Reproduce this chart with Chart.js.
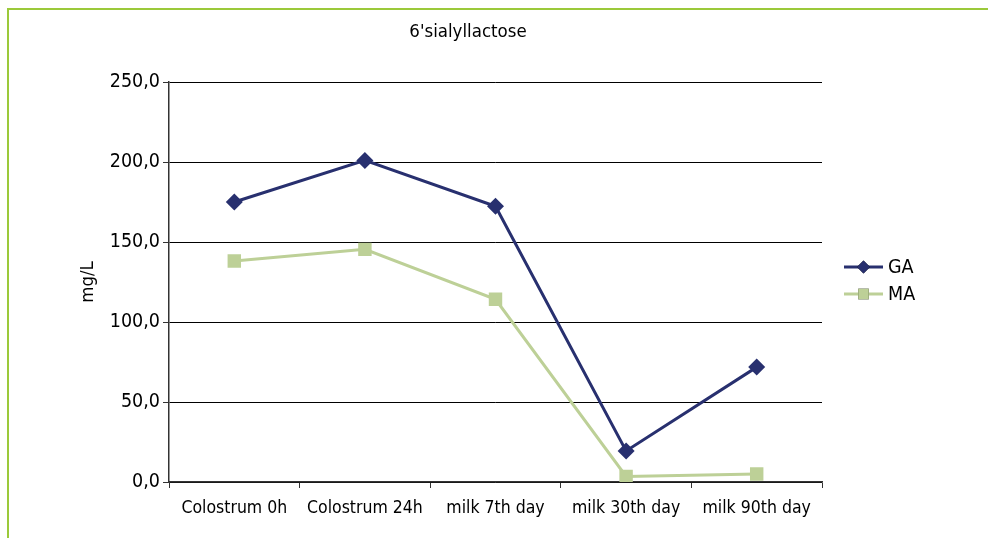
<!DOCTYPE html>
<html>
<head>
<meta charset="utf-8">
<script src="https://cdn.jsdelivr.net/npm/chart.js@4/dist/chart.umd.min.js"></script>
<style>
  html, body { margin: 0; padding: 0; background: #fff; }
  #wrap { position: relative; width: 988px; height: 538px; }
  #frame { position: absolute; left: 7px; top: 8px; right: 0; bottom: 0;
           border-top: 2px solid #9bc93a; border-left: 2px solid #9bc93a; }
  #chart { position: absolute; left: 0; top: 0; }
</style>
</head>
<body>
<div id="wrap">
  <div id="frame"></div>
  <canvas id="chart" width="988" height="538"></canvas>
</div>
<script>
// data
const categories = ['Colostrum 0h', 'Colostrum 24h', 'milk 7th day', 'milk 30th day', 'milk 90th day'];
const gaValues = [175.0, 201.0, 172.3, 19.4, 71.8];
const maValues = [138.1, 145.4, 114.2, 3.5, 5.0];
const yTicks = [0, 50, 100, 150, 200, 250];
const chartTitle = "6'sialyllactose";

const FONT = '"DejaVu Sans Condensed", "DejaVu Sans", sans-serif';
const GA_COLOR = '#28306f';
const MA_COLOR = '#bdd097';

// title sits over the plot, not over the whole canvas
const topTitle = {
    id: 'topTitle',
    afterDraw(chart) {
        const ctx = chart.ctx;
        ctx.save();
        ctx.fillStyle = '#000';
        ctx.font = '18.5px ' + FONT;
        ctx.textAlign = 'center';
        ctx.textBaseline = 'middle';
        ctx.fillText(chartTitle, 468, 32);
        ctx.restore();
    }
};

// legend on the right: line with marker in the middle, like the office chart
const sideLegend = {
    id: 'sideLegend',
    afterDraw(chart) {
        const ctx = chart.ctx;
        const x0 = 844, x1 = 883;
        const rows = [267, 294];
        chart.data.datasets.forEach((ds, i) => {
            const y = rows[i];
            ctx.save();
            ctx.strokeStyle = ds.borderColor;
            ctx.lineWidth = 3;
            ctx.beginPath();
            ctx.moveTo(x0, y);
            ctx.lineTo(x1, y);
            ctx.stroke();
            Chart.helpers.drawPoint(ctx, {
                pointStyle: ds.pointStyle,
                radius: i === 0 ? 6.5 : 7.5,
                rotation: 0,
                borderWidth: 0
            }, (x0 + x1) / 2, y);
            ctx.fillStyle = ds.pointBackgroundColor;
            ctx.fill();
            ctx.fillStyle = '#000';
            ctx.font = '19.5px ' + FONT;
            ctx.textBaseline = 'middle';
            ctx.fillText(ds.label, x1 + 5, y + 1);
            ctx.restore();
        });
    }
};

new Chart(document.getElementById('chart'), {
    type: 'line',
    data: {
        labels: categories,
        datasets: [{
            label: 'GA',
            data: gaValues,
            borderColor: GA_COLOR,
            backgroundColor: GA_COLOR,
            pointBackgroundColor: GA_COLOR,
            pointBorderColor: GA_COLOR,
            borderWidth: 3,
            pointStyle: 'rectRot',
            pointRadius: 8.5,
            pointBorderWidth: 0,
            tension: 0
        }, {
            label: 'MA',
            data: maValues,
            borderColor: MA_COLOR,
            backgroundColor: MA_COLOR,
            pointBackgroundColor: MA_COLOR,
            pointBorderColor: MA_COLOR,
            borderWidth: 3,
            pointStyle: 'rect',
            pointRadius: 9.5,
            pointBorderWidth: 0,
            tension: 0
        }]
    },
    options: {
        responsive: false,
        animation: false,
        layout: { padding: { left: 0, right: 166, top: 82, bottom: 0 } },
        plugins: {
            legend: { display: false },
            tooltip: { enabled: false },
            title: { display: false }
        },
        scales: {
            x: {
                offset: true,
                grid: {
                    display: true,
                    offset: true,
                    drawOnChartArea: false,
                    tickLength: 6,
                    tickColor: '#333'
                },
                border: { color: '#333', width: 1.5 },
                ticks: {
                    color: '#000',
                    font: { family: FONT, size: 17.5 },
                    padding: 10,
                    maxRotation: 0
                },
                afterFit(scale) { scale.height = 56; }
            },
            y: {
                min: 0,
                max: 250,
                afterBuildTicks(scale) { scale.ticks = yTicks.map(v => ({ value: v })); },
                grid: {
                    color: '#000',
                    lineWidth: 1,
                    tickLength: 6,
                    tickColor: '#333'
                },
                border: { color: '#333', width: 1.5 },
                ticks: {
                    color: '#000',
                    font: { family: FONT, size: 19.5 },
                    padding: 3,
                    callback: v => v.toFixed(1).replace('.', ',')
                },
                title: {
                    display: true,
                    text: 'mg/L',
                    color: '#000',
                    font: { family: FONT, size: 18.5 },
                    padding: { top: 77, bottom: 0 }
                },
                afterFit(scale) { scale.width = 169; }
            }
        }
    },
    plugins: [topTitle, sideLegend]
});
</script>
</body>
</html>
